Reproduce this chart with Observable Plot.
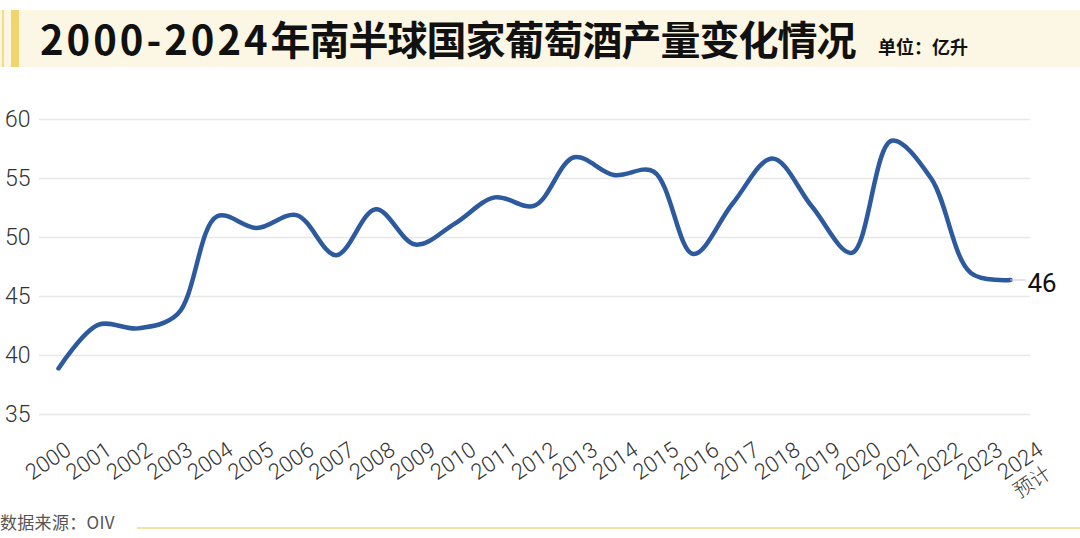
<!DOCTYPE html>
<html><head><meta charset="utf-8">
<script src="https://cdn.jsdelivr.net/npm/d3@7"></script>
<script src="https://cdn.jsdelivr.net/npm/@observablehq/plot@0.6"></script>
<style>
body{margin:0;width:1080px;height:538px;background:#fff;position:relative;overflow:hidden;font-family:"Noto Sans CJK SC",sans-serif;}
#band{position:absolute;left:0;top:10px;width:1080px;height:57px;background:#fcf6e4;}
#acc1{position:absolute;left:2px;top:10px;width:2px;height:57px;background:#f3dc85;}
#acc2{position:absolute;left:11px;top:10px;width:8px;height:57px;background:#f0d46e;}
#title{position:absolute;left:40px;top:18px;font-size:40px;line-height:40px;font-weight:700;color:#111;white-space:nowrap;}
#title .num{letter-spacing:3px;}
#title .cjk{letter-spacing:-1px;}
#unit{position:absolute;left:878px;top:36px;font-size:18px;line-height:20px;font-weight:700;color:#111;white-space:nowrap;}
#chart{position:absolute;left:0;top:80px;width:1080px;height:430px;}
#chart svg{position:absolute;left:0;top:0;}
#src{position:absolute;left:0;top:512px;font-size:17px;line-height:20px;color:#555;white-space:nowrap;letter-spacing:0.3px;}
#srcline{position:absolute;left:137px;top:527px;width:943px;height:2px;background:#f5e2a0;}
</style>
</head><body>
<div id="band"></div><div id="acc1"></div><div id="acc2"></div>
<div id="title"><span class="num">2000-2024</span><span class="cjk">年南半球国家葡萄酒产量变化情况</span></div>
<div id="unit">单位：亿升</div>
<div id="chart"></div>
<div id="src">数据来源：OIV</div>
<div id="srcline"></div>
<script>
const years = [2000,2001,2002,2003,2004,2005,2006,2007,2008,2009,2010,2011,2012,2013,2014,2015,2016,2017,2018,2019,2020,2021,2022,2023,2024];
const production = [38.9,42.6,42.3,43.5,51.8,50.8,51.9,48.5,52.4,49.4,51.2,53.4,52.7,56.8,55.3,55.6,48.6,52.9,56.7,52.6,48.7,58.2,55.0,47.0,46.4];
const yTicks = [35,40,45,50,55,60];
const lastNote = "预计";

const data = years.map((y,i)=>({year:y, value:production[i]}));
const last = data[data.length-1];
const font = "Roboto, 'Noto Sans CJK SC', sans-serif";

const chart = Plot.plot({
  width:1080, height:430,
  marginTop:39, marginBottom:96, marginLeft:39, marginRight:50,
  x:{domain:[years[0], years[years.length-1]], insetLeft:19, insetRight:20, axis:null},
  y:{domain:[yTicks[0], yTicks[yTicks.length-1]]},
  style:{fontFamily:font, background:"transparent", overflow:"visible"},
  marks:[
    Plot.ruleY(yTicks,{stroke:"#e8e8e8", strokeWidth:1.5}),
    Plot.axisY({ticks:yTicks, tickSize:0, tickPadding:9, fontSize:23, fontWeight:300, fill:"#333", label:null}),
    Plot.line(data,{x:"year", y:"value", curve:"catmull-rom", stroke:"#2d5a9e", strokeWidth:4.5}),
    Plot.ruleY([last],{y:"value", x1:"year", x2:d => d.year + 0.4, stroke:"#c8c8c8", strokeWidth:1}),
    Plot.text([last],{x:"year", y:"value", text:d => Math.round(d.value), dx:17, dy:4, textAnchor:"start", fontSize:26, fill:"#111"})
  ]
});

// category labels (spaced as in the original's axis)
const labels = Plot.plot({
  width:1080, height:430,
  marginTop:39, marginBottom:96, marginLeft:72, marginRight:36,
  x:{domain:[years[0], years[years.length-1]], axis:null},
  y:{domain:[yTicks[0], yTicks[yTicks.length-1]], axis:null},
  style:{fontFamily:font, background:"transparent", overflow:"visible"},
  marks:[
    Plot.text(years,{x:d => d, text:d => String(d), frameAnchor:"bottom", dy:39, rotate:-34, textAnchor:"end", fontSize:22, fontWeight:300, fill:"#333"}),
    Plot.text([last.year],{x:d => d, text:() => lastNote, frameAnchor:"bottom", dx:8, dy:62, rotate:-34, textAnchor:"end", fontSize:20, fontWeight:300, fill:"#333"})
  ]
});
const host = document.getElementById("chart");
host.appendChild(chart);
host.appendChild(labels);
</script>
</body></html>
